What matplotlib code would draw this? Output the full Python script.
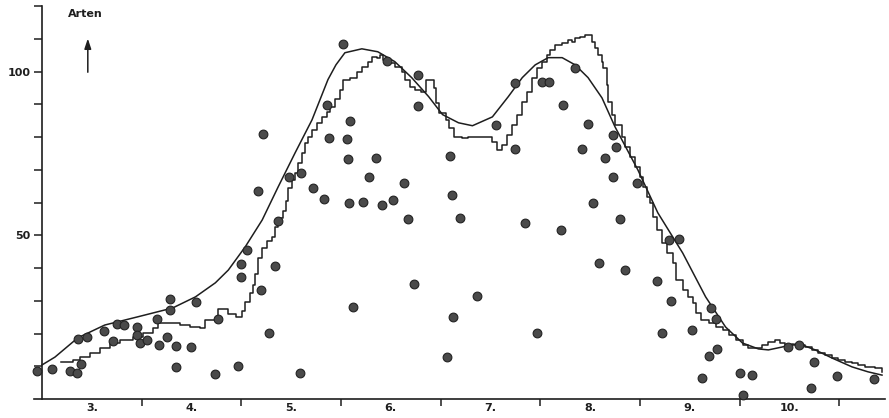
import matplotlib
matplotlib.use("Agg")
import matplotlib.pyplot as plt

# x in months since 1 March (month boundaries at integers), y = number of species (Arten)
month_labels = ["3.", "4.", "5.", "6.", "7.", "8.", "9.", "10."]

smooth_x = [0.00, 0.13, 0.36, 0.63, 0.96, 1.31, 1.54, 1.74, 1.87, 2.04, 2.21, 2.37,
            2.54, 2.71, 2.87, 2.95, 3.04, 3.21, 3.37, 3.54, 3.71, 3.88, 4.02, 4.18,
            4.32, 4.52, 4.68, 4.82, 4.95, 5.08, 5.22, 5.35, 5.48, 5.62, 5.75, 5.98,
            6.18, 6.43, 6.66, 6.86, 7.03, 7.19, 7.29, 7.43, 7.53, 7.63, 7.76, 7.93,
            8.13, 8.29, 8.43]
smooth_y = [10.4, 12.8, 18.7, 22.6, 25.1, 27.8, 31.2, 35.5, 39.4, 46.5, 54.7, 64.8,
            75.2, 85.3, 97.6, 102.1, 105.8, 107.0, 106.1, 103.1, 98.2, 92.4, 86.9, 84.4,
            83.5, 86.2, 92.4, 98.2, 102.1, 104.3, 104.3, 102.1, 98.2, 92.0, 83.2, 70.0,
            56.9, 44.6, 31.2, 22.0, 17.1, 15.3, 15.0, 15.9, 16.8, 16.5, 15.0, 12.5,
            9.8, 8.3, 7.3]

step_x = [0.19, 0.31, 0.38, 0.48, 0.58, 0.68, 0.78, 0.91, 1.01, 1.11, 1.16, 1.26, 1.39,
          1.49, 1.59, 1.64, 1.77, 1.87, 1.95, 2.01, 2.04, 2.09, 2.12, 2.14, 2.17, 2.21,
          2.26, 2.31, 2.34, 2.37, 2.42, 2.45, 2.47, 2.51, 2.54, 2.57, 2.61, 2.64, 2.67,
          2.71, 2.76, 2.81, 2.86, 2.89, 2.94, 2.99, 3.02, 3.09, 3.16, 3.21, 3.27, 3.31,
          3.36, 3.39, 3.42, 3.47, 3.54, 3.61, 3.64, 3.69, 3.74, 3.80, 3.85, 3.90, 3.93,
          3.95, 3.98, 4.05, 4.08, 4.13, 4.22, 4.28, 4.35, 4.45, 4.52, 4.57, 4.62, 4.67,
          4.72, 4.77, 4.82, 4.87, 4.92, 4.97, 5.02, 5.07, 5.10, 5.15, 5.22, 5.28, 5.32,
          5.35, 5.40, 5.45, 5.50, 5.52, 5.55, 5.58, 5.62, 5.63, 5.67, 5.68, 5.72, 5.75,
          5.82, 5.85, 5.90, 5.95, 6.00, 6.03, 6.07, 6.10, 6.13, 6.17, 6.22, 6.27, 6.33,
          6.36, 6.43, 6.48, 6.53, 6.56, 6.61, 6.69, 6.76, 6.83, 6.89, 6.96, 7.03, 7.09,
          7.16, 7.23, 7.29, 7.36, 7.41, 7.46, 7.59, 7.66, 7.73, 7.79, 7.86, 7.93, 7.99,
          8.06, 8.13, 8.19, 8.26, 8.36, 8.43]
step_y = [11.3, 11.9, 12.8, 14.1, 15.6, 17.1, 18.0, 19.0, 20.2, 21.7, 23.2, 23.2, 22.6,
          22.0, 21.7, 24.2, 27.5, 26.0, 25.1, 26.9, 29.7, 32.4, 34.9, 38.2, 43.1, 46.2,
          48.3, 49.5, 52.6, 55.4, 57.5, 60.6, 64.5, 67.0, 69.1, 72.2, 75.2, 78.3, 80.1,
          82.3, 84.4, 86.2, 87.8, 89.3, 91.7, 94.5, 97.6, 98.2, 100.0, 101.5, 103.1, 104.6,
          104.3, 105.2, 103.7, 102.8, 101.5, 100.0, 97.6, 95.4, 94.5, 93.9, 97.6, 97.6, 95.1,
          90.5, 87.5, 85.3, 82.9, 80.1, 79.8, 80.1, 80.1, 80.1, 78.6, 76.1, 77.7, 80.7,
          83.8, 86.9, 90.8, 93.9, 98.2, 101.2, 103.1, 105.2, 106.7, 108.3, 108.9, 109.8, 109.2,
          110.4, 110.7, 111.3, 111.3, 109.2, 107.3, 105.2, 103.1, 101.2, 96.0, 90.8, 86.9, 83.8,
          80.1, 77.1, 74.0, 70.9, 67.9, 64.8, 61.8, 59.9, 55.7, 51.7, 47.7, 44.6, 41.6,
          36.4, 33.3, 31.2, 29.4, 26.3, 24.2, 23.2, 22.0, 21.1, 19.6, 18.0, 16.5, 15.6,
          15.6, 16.5, 17.4, 18.0, 17.1, 16.5, 16.5, 15.9, 15.0, 14.1, 13.5, 12.5, 11.9,
          11.3, 11.0, 10.4, 9.8, 9.5, 8.3]

dot_x = [-0.05, 0.10, 0.28, 0.35, 0.39, 0.36, 0.45, 0.62, 0.71, 0.75, 0.82, 0.95, 0.95,
         0.98, 1.05, 1.15, 1.17, 1.25, 1.28, 1.28, 1.34, 1.34, 1.50, 1.55, 1.74, 1.77,
         1.97, 2.00, 2.00, 2.06, 2.20, 2.28, 2.34, 2.37, 2.22, 2.17, 2.59, 2.48, 2.60,
         2.72, 2.83, 2.86, 2.88, 3.02, 3.09, 3.06, 3.07, 3.35, 3.28, 3.08, 3.22, 3.41,
         3.52, 3.63, 3.67, 3.46, 3.77, 3.77, 4.09, 4.11, 4.20, 4.56, 4.75, 4.75, 4.85,
         5.02, 5.09, 5.23, 5.35, 5.42, 3.12, 3.73, 4.12, 4.06, 4.37, 4.97, 5.21, 5.59,
         5.48, 5.73, 5.76, 5.65, 5.73, 5.97, 5.53, 5.80, 5.85, 6.29, 6.39, 6.17, 6.31,
         6.22, 6.52, 6.71, 6.76, 6.77, 6.69, 6.62, 7.00, 7.13, 7.03, 7.49, 7.60, 7.75,
         7.72, 7.98, 8.35]
dot_y = [8.6, 9.2, 8.6, 8.0, 10.7, 18.3, 19.0, 20.8, 17.7, 22.9, 22.6, 22.0, 19.6,
         17.1, 18.0, 24.5, 16.5, 19.0, 30.6, 27.2, 16.2, 9.8, 15.9, 29.7, 7.6, 24.5,
         10.1, 41.3, 37.3, 45.6, 33.3, 20.2, 40.7, 54.4, 81.0, 63.6, 8.0, 67.9, 69.1,
         64.5, 61.2, 89.9, 79.8, 108.6, 85.0, 79.5, 73.4, 73.7, 67.9, 59.9, 60.2, 59.3,
         60.9, 66.1, 55.0, 103.4, 99.1, 89.6, 74.3, 62.4, 55.4, 83.8, 96.6, 76.5, 53.8,
         96.9, 96.9, 89.9, 101.2, 76.5, 28.1, 35.2, 25.1, 12.8, 31.5, 20.2, 51.7, 41.6,
         84.1, 80.7, 77.1, 73.7, 67.9, 66.1, 59.9, 55.0, 39.4, 48.6, 48.9, 36.1, 30.0,
         20.2, 21.1, 27.8, 24.5, 15.3, 13.1, 6.4, 8.0, 7.3, 1.2, 15.9, 16.5, 11.3,
         3.4, 7.0, 6.1]

ink = "#1e1e1e"
font = dict(family="DejaVu Sans", fontweight="bold", fontsize=8)

fig = plt.figure(figsize=(8.89, 4.18), dpi=100)
fig.patch.set_facecolor("white")
ax = fig.add_axes([34 / 889, 19 / 418, 851 / 889, 396 / 418])
ax.set_xlim(-0.08, 8.46)
ax.set_ylim(0, 121)

ax.plot(smooth_x, smooth_y, color=ink, lw=1.1, solid_joinstyle="round", zorder=2)
ax.plot(step_x, step_y, color=ink, lw=1.1, drawstyle="steps-post", zorder=2)
ax.plot(dot_x, dot_y, linestyle="none", marker="o", markersize=6.3,
        markerfacecolor="#4a4a4a", markeredgecolor="#222222", markeredgewidth=0.8,
        zorder=3, clip_on=False)

for s in ["top", "right"]:
    ax.spines[s].set_visible(False)
ax.spines["left"].set_position(("data", 0))
ax.spines["left"].set_bounds(0, 120)
ax.spines["left"].set_linewidth(1.2)
ax.spines["bottom"].set_linewidth(1.2)
ax.spines["left"].set_color(ink)
ax.spines["bottom"].set_color(ink)

ax.set_xticks([i + 0.5 for i in range(len(month_labels))])
ax.set_xticklabels(month_labels, **font, color=ink)
ax.set_xticks(list(range(1, len(month_labels) + 1)), minor=True)
ax.tick_params(axis="x", which="major", length=0, pad=3)
ax.tick_params(axis="x", which="minor", length=5, width=1.1, color=ink, direction="out")

ax.set_yticks([50, 100])
ax.set_yticklabels(["50", "100"], **font, color=ink)
ax.set_yticks(list(range(10, 121, 10)), minor=True)
ax.tick_params(axis="y", which="both", length=6, width=1.1, color=ink, direction="out", pad=2)

ax.text(0.26, 117.5, "Arten", **font, color=ink, ha="left", va="center")
ax.annotate("", xy=(0.46, 111), xytext=(0.46, 99),
            arrowprops=dict(arrowstyle="-|>,head_length=0.6,head_width=0.2",
                            color=ink, lw=1.1))

fig.savefig("out.png", dpi=100, facecolor="white")
